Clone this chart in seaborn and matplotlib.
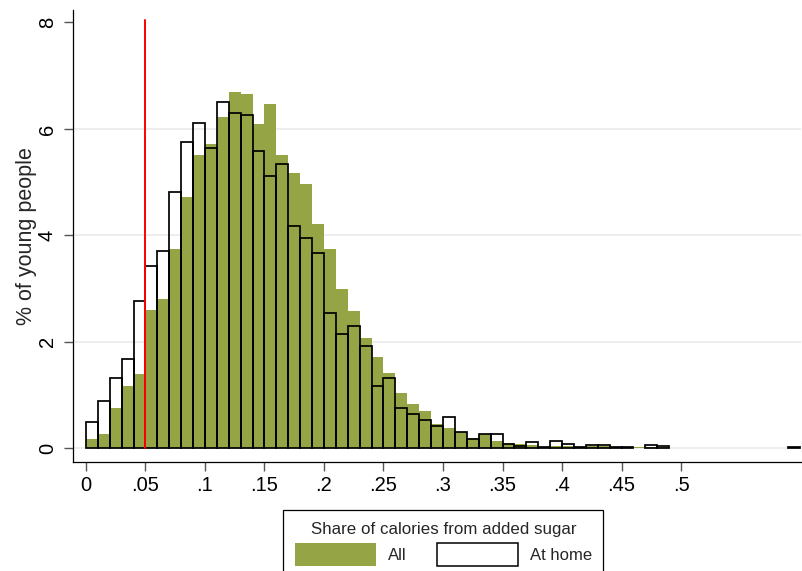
import numpy as np
import pandas as pd
import matplotlib
matplotlib.use("Agg")
import matplotlib.pyplot as plt
import seaborn as sns
from matplotlib.patches import Patch

# Histogram bins: width 0.01 from 0 to 0.60
bin_width = 0.01
bin_range = (0.0, 0.6)

# Percent of young people per bin, all food
pct_all = [0.17, 0.27, 0.76, 1.18, 1.39, 2.60, 2.80, 3.74, 4.72, 5.51,
           5.71, 6.22, 6.69, 6.65, 6.09, 6.47, 5.51, 5.18, 4.96, 4.21,
           3.74, 3.00, 2.58, 2.07, 1.71, 1.42, 1.03, 0.83, 0.70, 0.46,
           0.39, 0.30, 0.20, 0.27, 0.13, 0.10, 0.08, 0.06, 0.03, 0.05,
           0.04, 0.03, 0.04, 0.04, 0.025, 0.025, 0.03, 0.03, 0.02, 0.0,
           0.0, 0.0, 0.0, 0.0, 0.0, 0.0, 0.0, 0.0, 0.0, 0.03]

# Percent of young people per bin, food eaten at home
pct_home = [0.49, 0.88, 1.33, 1.67, 2.77, 3.43, 3.71, 4.82, 5.75, 6.12,
            5.65, 6.50, 6.30, 6.27, 5.58, 5.11, 5.35, 4.18, 3.96, 3.66,
            2.55, 2.15, 2.30, 1.93, 1.18, 1.33, 0.75, 0.64, 0.54, 0.42,
            0.58, 0.30, 0.18, 0.27, 0.27, 0.09, 0.04, 0.11, 0.03, 0.13,
            0.08, 0.03, 0.06, 0.06, 0.025, 0.025, 0.0, 0.06, 0.04, 0.0,
            0.0, 0.0, 0.0, 0.0, 0.0, 0.0, 0.0, 0.0, 0.0, 0.03]

x_ticks = [0, 0.05, 0.1, 0.15, 0.2, 0.25, 0.3, 0.35, 0.4, 0.45, 0.5]
x_tick_labels = ["0", ".05", ".1", ".15", ".2", ".25", ".3", ".35", ".4", ".45", ".5"]
y_ticks = [0, 2, 4, 6, 8]
y_tick_labels = ["0", "2", "4", "6", "8"]
threshold = 0.05
threshold_top = 8.05

GREEN = "#95a546"

sns.set_style("white")
plt.rcParams["font.family"] = ["Liberation Sans", "DejaVu Sans"]

W, H = 802, 571
fig = plt.figure(figsize=(W / 100, H / 100), dpi=100)
ax = fig.add_axes([72.5 / W, 1 - 462 / H, (801 - 72.5) / W, (462 - 10) / H])

# one row per bin, positioned at the bin centre and weighted by its percentage
n_bins = len(pct_all)
centers = bin_range[0] + bin_width * (np.arange(n_bins) + 0.5)
df = pd.DataFrame({"share": centers, "all": pct_all, "home": pct_home})

for g in [0, 2, 4, 6]:
    ax.axhline(g, color="#e8e8e8", lw=1.1, zorder=0)

sns.histplot(data=df, x="share", weights="all", binwidth=bin_width,
             binrange=bin_range, stat="count", color=GREEN, alpha=1,
             linewidth=0, ax=ax, zorder=2)
sns.histplot(data=df, x="share", weights="home", binwidth=bin_width,
             binrange=bin_range, stat="count", fill=False, color="black",
             linewidth=1.25, ax=ax, zorder=3)
for p in ax.patches:
    if p.get_height() <= 1e-9:
        p.set_visible(False)

ax.plot([threshold, threshold], [0, threshold_top], color="red", lw=1.4, zorder=5)

ax.set_xlim(-0.0113, 0.6008)
ax.set_ylim(-0.257, 8.234)
ax.set_xticks(x_ticks)
ax.set_xticklabels(x_tick_labels)
ax.set_yticks(y_ticks)
ax.set_yticklabels(y_tick_labels, rotation=90, va="center")
ax.tick_params(axis="both", direction="out", length=6.8, width=1.0,
               color="#555555", labelsize=14.5, labelcolor="black",
               bottom=True, left=True)
ax.tick_params(axis="x", pad=3)
ax.tick_params(axis="y", pad=4.5)
ax.set_xlabel("")
ax.set_ylabel("% of young people", fontsize=15.5)
ax.yaxis.set_label_coords((37 - 72.5) / (801 - 72.5), 0.5)

for s in ["top", "right"]:
    ax.spines[s].set_visible(False)
for s in ["left", "bottom"]:
    ax.spines[s].set_color("black")
    ax.spines[s].set_linewidth(0.9)

handles = [Patch(facecolor=GREEN, edgecolor="none"),
           Patch(facecolor="white", edgecolor="black", linewidth=1.1)]
leg = fig.legend(handles=handles, labels=["All", "At home"],
                 title="Share of calories from added sugar",
                 ncol=2, loc="upper left",
                 bbox_to_anchor=(283.3 / W, 1 - 510 / H),
                 bbox_transform=fig.transFigure,
                 frameon=True, fancybox=False, shadow=False,
                 edgecolor="black", framealpha=1,
                 fontsize=12, title_fontsize=12.2,
                 handlelength=4.86, handleheight=1.7,
                 handletextpad=0.72, columnspacing=1.8,
                 borderpad=0.7, borderaxespad=0, labelspacing=0.4)
leg.get_frame().set_linewidth(0.9)

fig.savefig("out.png", dpi=100)
